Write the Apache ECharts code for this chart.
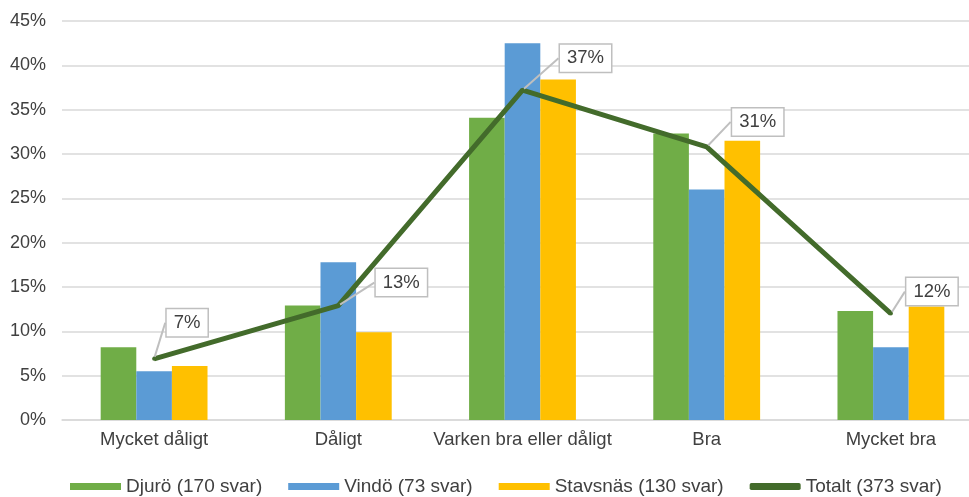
<!DOCTYPE html>
<html>
<head>
<meta charset="utf-8">
<script src="https://cdn.jsdelivr.net/npm/echarts@6/dist/echarts.min.js"></script>
<style>
  html, body { margin: 0; padding: 0; background: #fff; overflow: hidden; }
  /* the original picture is cut off on the right, so the canvas is a bit wider than the window */
  #chart { width: 983px; height: 497px; }
</style>
</head>
<body>
<div id="chart"></div>
<script>
// categories & values (percent)
const categories = ["Mycket dåligt", "Dåligt", "Varken bra eller dåligt", "Bra", "Mycket bra"];
const djuro = [8.2, 12.9, 34.1, 32.3, 12.3];
const vindo = [5.5, 17.8, 42.5, 26.0, 8.2];
const stavsnas = [6.1, 9.9, 38.4, 31.5, 12.8];
const totalt = [6.9, 12.9, 37.2, 30.8, 12.0];
const seriesNames = ["Djurö (170 svar)", "Vindö (73 svar)", "Stavsnäs (130 svar)", "Totalt (373 svar)"];

// where the callout boxes sit, relative to the point
const calloutShift = [[33, -36], [63, -23], [63, -32], [51, -25], [41, -22]];

const font = "Liberation Sans, Arial, sans-serif";
const textColor = "#404040";

let chart = echarts.init(document.getElementById("chart"));

let barBase = {
  type: "bar",
  barGap: "0%",
  barCategoryGap: "42%"
};

let option = {
  animation: false,
  textStyle: { fontFamily: font },
  grid: {
    left: 62,
    right: 0,
    top: 21,
    bottom: 77
  },
  legend: {
    left: 70,
    top: 477,
    padding: 0,
    itemWidth: 51,
    itemHeight: 7,
    itemGap: 26,
    textStyle: { fontSize: 19, color: textColor, fontFamily: font },
    data: [
      { name: seriesNames[0], icon: "rect" },
      { name: seriesNames[1], icon: "rect" },
      { name: seriesNames[2], icon: "rect" },
      { name: seriesNames[3], icon: "roundRect" }
    ]
  },
  xAxis: {
    type: "category",
    data: categories,
    axisLine: { lineStyle: { color: "#D9D9D9", width: 1.5 } },
    axisTick: { show: false },
    axisLabel: { interval: 0, fontSize: 18.5, color: textColor, margin: 10 }
  },
  yAxis: {
    type: "value",
    min: 0,
    max: 45,
    interval: 5,
    axisLine: { show: false },
    axisTick: { show: false },
    axisLabel: { fontSize: 18, color: textColor, margin: 16, formatter: "{value}%" },
    splitLine: { lineStyle: { color: "#D9D9D9", width: 1.5 } }
  },
  series: [
    Object.assign({ name: seriesNames[0], data: djuro, itemStyle: { color: "#70AD47" } }, barBase),
    Object.assign({ name: seriesNames[1], data: vindo, itemStyle: { color: "#5B9BD5" } }, barBase),
    Object.assign({ name: seriesNames[2], data: stavsnas, itemStyle: { color: "#FFC000" } }, barBase),
    {
      name: seriesNames[3],
      type: "line",
      data: totalt,
      symbol: "circle",
      symbolSize: 4,
      lineStyle: { color: "#436B2B", width: 5 },
      itemStyle: { color: "#436B2B" },
      label: {
        show: true,
        position: "inside",
        formatter: p => Math.round(p.value) + "%",
        fontSize: 18.5,
        color: textColor,
        backgroundColor: "#fff",
        borderColor: "#BFBFBF",
        borderWidth: 1.5,
        padding: [5, 7, 3, 7]
      },
      labelLine: {
        show: true,
        lineStyle: { color: "#BFBFBF", width: 2 }
      },
      labelLayout: params => ({
        dx: calloutShift[params.dataIndex][0],
        dy: calloutShift[params.dataIndex][1]
      }),
      z: 5
    }
  ]
};

chart.setOption(option);
</script>
</body>
</html>
